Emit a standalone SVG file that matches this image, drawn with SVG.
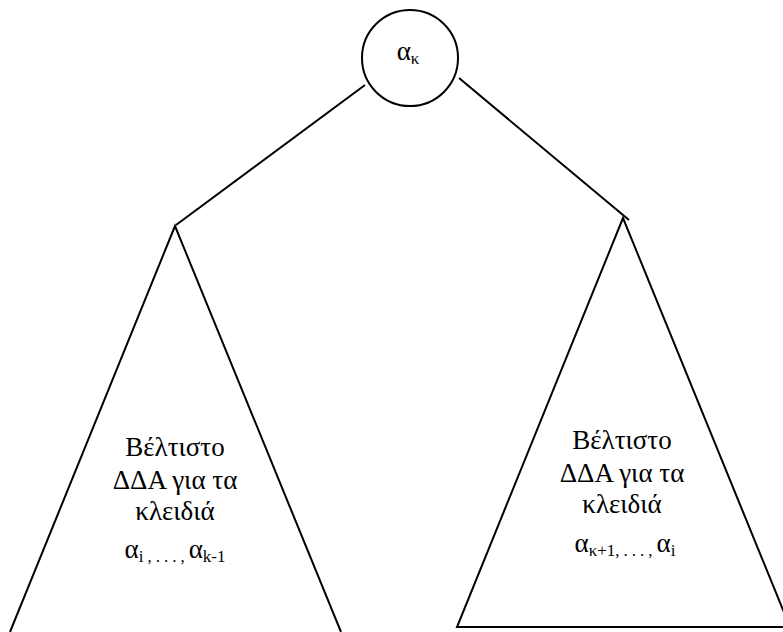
<svg xmlns="http://www.w3.org/2000/svg" width="783" height="632" viewBox="0 0 783 632">
<style>
.ln{fill:none;stroke:#000;stroke-width:2}
text{font-family:'Liberation Serif','Times New Roman',serif;font-size:27px;fill:#000;text-anchor:middle}
tspan.s{font-size:17px}
tspan.d{font-size:17px;letter-spacing:4px}
</style>
<rect width="783" height="632" fill="#fff"/>
<g id="connectors">
<line class="ln" x1="365" y1="85" x2="176" y2="225"/>
<line class="ln" x1="459" y1="78" x2="629" y2="220"/>
</g>
<g id="root">
<circle class="ln" cx="410" cy="58" r="48"/>
<text x="408" y="60">α<tspan class="s" dy="4">κ</tspan></text>
</g>
<g id="left-subtree">
<polyline class="ln" points="10,632 175,226 341,632"/>
<text x="175" y="456">Βέλτιστο</text>
<text x="175" y="489">ΔΔΑ για τα</text>
<text x="175" y="520">κλειδιά</text>
<text x="175" y="558">α<tspan class="d" dy="4">i,...,</tspan><tspan dy="-4">α</tspan><tspan class="s" dy="4">k-1</tspan></text>
</g>
<g id="right-subtree">
<polygon class="ln" points="623,218 790,627 457,627"/>
<text x="622" y="449">Βέλτιστο</text>
<text x="622" y="482">ΔΔΑ για τα</text>
<text x="622" y="513">κλειδιά</text>
<text x="625" y="552">α<tspan class="s" dy="4">κ+1</tspan><tspan class="d">,...,</tspan><tspan dy="-4">α</tspan><tspan class="s" dy="4">i</tspan></text>
</g>
</svg>
